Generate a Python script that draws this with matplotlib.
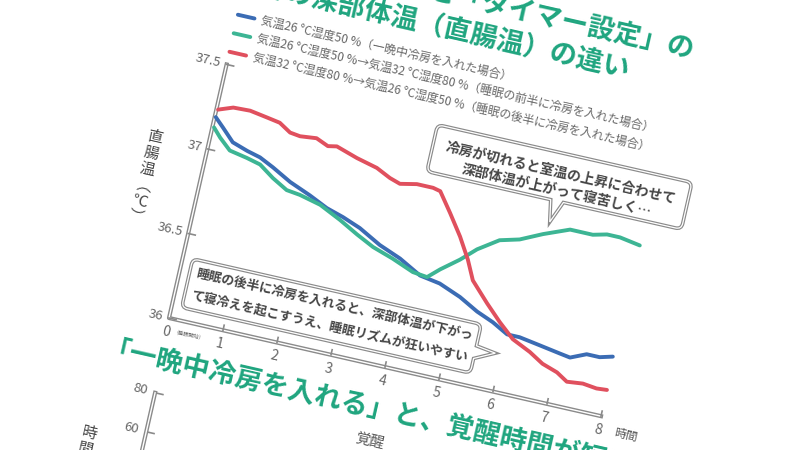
import matplotlib
matplotlib.use("Agg")
import matplotlib.pyplot as plt
from matplotlib.transforms import Affine2D
from matplotlib.path import Path
from matplotlib.patches import PathPatch

plt.rcParams["font.family"] = ["Noto Sans CJK JP", "DejaVu Sans"]

BLUE, GREEN, RED = "#3b6cb4", "#3db594", "#e0505e"
TITLE_GREEN, GREY, DARK = "#1fa57f", "#666666", "#454545"

# hours since sleep onset / rectal temperature (°C)
hours_blue = [0.02, 0.19, 0.42, 0.71, 0.96, 1.23, 1.59, 1.99, 2.34, 2.66, 3.0, 3.42, 3.83,
              4.25, 4.63, 5.04, 5.40, 5.72, 6.02, 6.25, 6.64, 7.02, 7.22, 7.50, 7.74, 7.97]
temp_blue = [37.19, 37.14, 37.07, 37.04, 37.02, 36.98, 36.92, 36.87, 36.82, 36.79, 36.75, 36.68, 36.63,
             36.56, 36.54, 36.49, 36.43, 36.39, 36.34, 36.34, 36.32, 36.30, 36.29, 36.33, 36.33, 36.35]

hours_green = [0.03, 0.18, 0.40, 0.73, 0.99, 1.27, 1.56, 1.81, 2.21, 2.62, 2.98, 3.31, 3.70,
               4.11, 4.38, 4.58, 4.89, 5.15, 5.51, 5.86, 6.25, 6.71, 7.13, 7.38, 7.62, 8.0]
temp_green = [37.13, 37.08, 37.02, 37.00, 36.98, 36.92, 36.87, 36.86, 36.83, 36.77, 36.71, 36.66, 36.62,
              36.57, 36.56, 36.62, 36.70, 36.78, 36.86, 36.89, 36.95, 37.01, 37.01, 37.03, 37.03, 37.01]

hours_red = [0.03, 0.29, 0.60, 0.93, 1.17, 1.39, 1.58, 1.88, 2.11, 2.27, 2.67, 3.06, 3.33, 3.53, 3.83,
             4.13, 4.27, 4.53, 4.80, 5.03, 5.20, 5.54, 5.84, 6.14, 6.49, 6.76, 7.05, 7.26, 7.55, 7.81, 8.0]
temp_red = [37.235, 37.266, 37.27, 37.253, 37.24, 37.198, 37.19, 37.20, 37.17, 37.18, 37.14, 37.11, 37.07,
            37.05, 37.07, 37.07, 37.06, 36.95, 36.83, 36.71, 36.60, 36.49, 36.40, 36.32, 36.27, 36.22,
            36.19, 36.15, 36.16, 36.15, 36.155]

series_labels = [
    "気温26 °C湿度50 %（一晩中冷房を入れた場合）",
    "気温26 °C湿度50 %→気温32 °C湿度80 %（睡眠の前半に冷房を入れた場合）",
    "気温32 °C湿度80 %→気温26 °C湿度50 %（睡眠の後半に冷房を入れた場合）",
]
y_ticks = [36, 36.5, 37, 37.5]
y_ticklabels = ["36", "36.5", "37", "37.5"]
x_ticks = [0, 1, 2, 3, 4, 5, 6, 7, 8]
title_lines = ["「一晩中冷房を入れる」と「タイマー設定」の", "場合の深部体温（直腸温）の違い"]
note_top = "冷房が切れると室温の上昇に合わせて\n深部体温が上がって寝苦しく…"
note_bottom = "睡眠の後半に冷房を入れると、深部体温が下がっ\nて寝冷えを起こすうえ、睡眠リズムが狂いやすい"
next_title = "「一晩中冷房を入れる」と、覚醒時間が短い"
next_ticks = [80, 60]

# the page is photographed slightly rotated: draw upright, then rotate
ANG = -12.8
OX, OY = 169, 450 - 318
fig = plt.figure(figsize=(8, 4.5), dpi=100)
ax = fig.add_axes([OX / 800, OY / 450, 443 / 800, 260 / 450])
ax.set_xlim(0, 8); ax.set_ylim(36, 37.5); ax.axis("off")
rot = Affine2D().rotate_deg_around(OX, OY, ANG)
T = ax.transData + rot
P = Affine2D().translate(OX, OY) + rot          # pixel offsets from the chart origin


def off(dx, dy):
    return ax.transData + Affine2D().translate(dx, dy) + rot


def txt(x, y, s, size, color=GREY, ha="left", va="center", weight="normal", tr=P, **kw):
    return ax.text(x, y, s, transform=tr, rotation=ANG, rotation_mode="anchor", ha=ha, va=va,
                   fontsize=size, color=color, fontweight=weight, **kw)


def bubble(x0, y0, x1, y1, r, tail, side):
    v = [(x0 + r, y0)]
    if side == "bottom":
        v += tail
    v += [(x1 - r, y0), (x1, y0), (x1, y0 + r)]
    if side == "right":
        v += tail
    v += [(x1, y1 - r), (x1, y1), (x1 - r, y1), (x0 + r, y1), (x0, y1), (x0, y1 - r),
          (x0, y0 + r), (x0, y0), (x0 + r, y0)]
    codes = [Path.MOVETO] + [Path.LINETO] * (len(tail) if side == "bottom" else 0)
    codes += [Path.LINETO, Path.CURVE3, Path.CURVE3]
    codes += [Path.LINETO] * (len(tail) if side == "right" else 0)
    codes += [Path.LINETO, Path.CURVE3, Path.CURVE3, Path.LINETO, Path.CURVE3, Path.CURVE3,
              Path.LINETO, Path.CURVE3, Path.CURVE3]
    path = Path(v, codes)
    ax.add_patch(PathPatch(path, transform=P, fc="white", ec="#8a8a8a", lw=2.6, zorder=5, clip_on=False))
    ax.add_patch(PathPatch(path, transform=P, fc="none", ec="white", lw=0.9, zorder=5, clip_on=False))


# data lines
for hx, ty, c in [(hours_blue, temp_blue, BLUE), (hours_green, temp_green, GREEN), (hours_red, temp_red, RED)]:
    ax.plot(hx, ty, color=c, lw=2.8, transform=T, clip_on=False, zorder=3, solid_capstyle="round")

# axes (double line)
ax.plot([0, 0, 8], [37.5, 36, 36], color="#8a8a8a", lw=3.0, transform=T, clip_on=False, zorder=2)
ax.plot([0, 0, 8], [37.5, 36, 36], color="white", lw=1.0, transform=T, clip_on=False, zorder=2)
for v, lab in zip(y_ticks, y_ticklabels):
    ax.plot([0, 0.13], [v, v], color="#8a8a8a", lw=1.2, transform=T, clip_on=False)
    txt(0, v, lab, 9.5, ha="right", tr=off(-6, 0))
for h in x_ticks:
    if h > 0:
        ax.plot([h, h], [36, 36.03], color="#8a8a8a", lw=1.2, transform=T, clip_on=False)
    txt(h, 36, str(h), 10, ha="center", tr=off(0, -14))
txt(7, -14, "（睡眠開始）", 3.8)
txt(459, -13, "時間", 8.5, color="#555")
txt(-54, 132, "直\n腸\n温\n︵\n℃\n︶", 11, color=DARK, ha="center", linespacing=0.95)

# legend
for i, (c, lab) in enumerate(zip([BLUE, GREEN, RED], series_labels)):
    yy = 311 - 19 * i
    ax.plot([0, 17], [yy, yy], color=c, lw=2.8, transform=P, clip_on=False, solid_capstyle="round")
    txt(24, yy, lab, 8.6)

# title
txt(453, 373, title_lines[0], 19.5, color=TITLE_GREEN, ha="right", weight="bold")
txt(394, 344, title_lines[1], 19.5, color=TITLE_GREEN, ha="right", weight="bold")

# speech bubbles
bubble(219, 200, 480, 248, 6, [(346, 200), (350, 178), (359, 200)], "bottom")
txt(350, 219, note_top, 10, color=DARK, ha="center", weight="bold", linespacing=1.35, zorder=6)
bubble(10, 13, 306, 63, 6, [(306, 28), (326, 38), (306, 41)], "right")
txt(17, 39, note_bottom, 9.3, color=DARK, weight="bold", linespacing=1.7, zorder=6)

# start of the next chart below
txt(-57, -47, next_title, 19.5, color=TITLE_GREEN, weight="bold")
for i, v in enumerate(next_ticks):
    yy = -76 - 40 * i
    ax.plot([3, 11], [yy, yy], color="#8a8a8a", lw=1.2, transform=P, clip_on=False)
    txt(-5, yy, str(v), 9.5, ha="right")
ax.plot([3, 3], [-76, -240], color="#8a8a8a", lw=3.0, transform=P, clip_on=False)
ax.plot([3, 3], [-76, -240], color="white", lw=1.0, transform=P, clip_on=False)
txt(-52, -122, "時\n間", 11, color=DARK, ha="center", va="top", linespacing=0.95)
txt(223, -76, "覚醒", 10.5, color="#555", ha="center")

fig.savefig("out.png", dpi=100, facecolor="white")
